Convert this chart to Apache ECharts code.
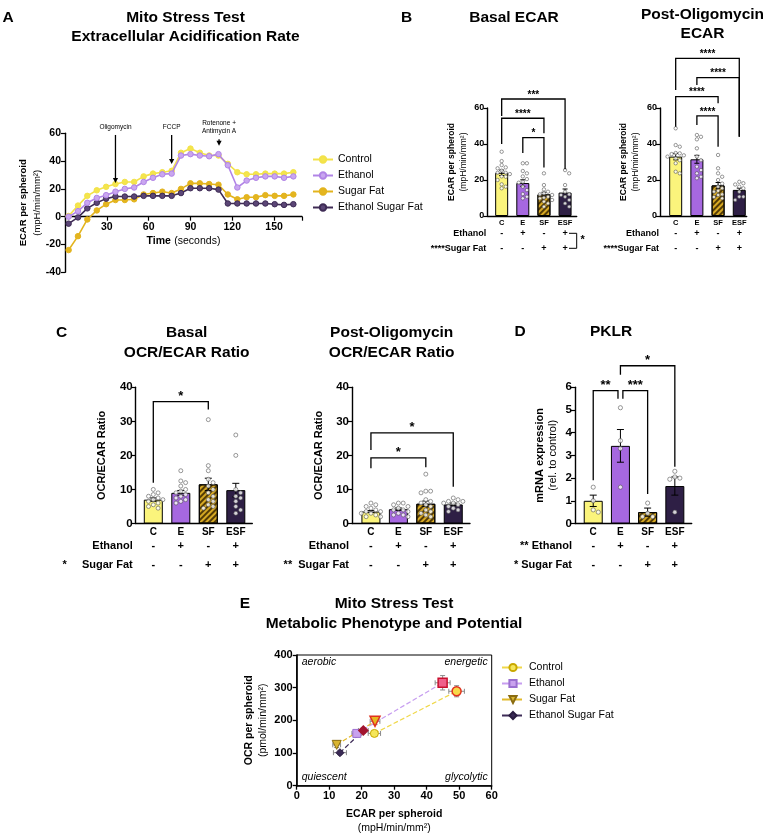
<!DOCTYPE html>
<html>
<head>
<meta charset="utf-8">
<script src="https://cdn.jsdelivr.net/npm/echarts@6/dist/echarts.min.js"></script>
<style>
  html, body { margin: 0; padding: 0; background: #fff; }
  #chart { width: 767px; height: 836px; }
</style>
</head>
<body>
<div id="chart"></div>
<script>
// ---------- data ----------
// Panel A: ECAR time course
const timeSec = [2.6, 9.3, 16.0, 22.8, 29.5, 36.2, 42.9, 49.6, 56.4, 63.1, 69.8, 76.5, 83.2, 90.0, 96.7, 103.4, 110.1, 116.8, 123.6, 130.3, 137.0, 143.7, 150.4, 157.1, 163.8];
const ecarControl = [0.5, 8, 15, 19, 21.5, 23.5, 25, 25, 29, 31, 32, 33, 46, 49, 46, 44, 44, 38, 32, 30.5, 30.5, 31, 31, 31, 32];
const ecarEthanol = [0, 4, 10, 13.5, 15.5, 18, 20, 21, 25, 28, 30.5, 31, 44, 45, 44, 43.5, 45, 37, 21, 26, 28, 29, 29, 28, 29];
const ecarSugarFat = [-24, -14, -2, 4.5, 9, 12, 12, 12.5, 16, 17, 18, 17, 20, 24, 24, 23.5, 23, 16, 12.5, 14, 14, 15.5, 15, 15, 16];
const ecarEthSugarFat = [-5, -0.5, 6, 10, 13, 14.5, 14.5, 14.5, 15, 15, 15, 15, 17, 20.5, 20.5, 20.5, 19.5, 9.5, 9.5, 9.5, 9.5, 9.5, 9, 8.5, 9];
const lineGroups = ['Control', 'Ethanol', 'Sugar Fat', 'Ethanol Sugar Fat'];
const injectTime = [36.2, 76.5, 110.5];
const injectName = ['Oligomycin', 'FCCP', 'Rotenone +\nAntimycin A'];
const injectTop = [58.8, 58.8, 55.7];
const injectTip = [24.2, 37.9, 51];

// bar panels: shared categories and treatment rows
const groups = ['C', 'E', 'SF', 'ESF'];
const ethanolRow = ['-', '+', '-', '+'];
const sugarFatRow = ['-', '-', '+', '+'];

// Panel B: basal ECAR
const basalEcarMean = [24, 18.3, 12, 13];
const basalEcarSem = [1.5, 1.8, 1.2, 2.0];
const basalEcarDots = [
  [35.7, 30.5, 28.3, 27, 26.5, 25.2, 24, 24, 23.3, 22, 21.8, 20, 17.6, 16.3, 15.4],
  [29.3, 29.3, 25, 23.7, 22, 20.5, 19, 18.5, 16.3, 14.4, 12.2, 10.7, 9.8],
  [23.7, 17.2, 14.8, 13.5, 12.6, 12, 11.7, 10.7, 10.2, 9.8, 8.9, 8, 7, 5.2],
  [25.5, 23.7, 17.2, 13.5, 12, 11.7, 10.7, 8.9, 7, 5.2]
];
// [from, to, top, left end, right end, label]
const basalEcarSig = [[0, 3, 65, 55.5, 26, '***'], [0, 2, 54.3, 40, 46, '****'], [1, 2, 43.5, 35, 27, '*']];

// Panel B: post-oligomycin ECAR
const postEcarMean = [33, 31.5, 17, 14.5];
const postEcarSem = [1.8, 2.2, 1.6, 1.0];
const postEcarDots = [
  [48.7, 39.4, 38.5, 35, 34.8, 34.4, 33.7, 33, 32, 31, 29.3, 24.6, 23.7],
  [45, 44, 42.6, 37.6, 33, 31, 27.4, 25.5, 23.7, 21.8, 21],
  [33.9, 26.5, 23.7, 21.8, 20, 18, 16.3, 15.4, 14, 13.5, 12, 11.7, 10.5, 9.8],
  [19, 18.2, 17.5, 17.2, 16.3, 15.4, 13.5, 10.7, 10.7, 8.9]
];
const postEcarSig = [[0, 3, 87.6, 70, 44, '****'], [1, 3, 76.9, 72.8, 44, '****'], [0, 2, 66.3, 49.6, 62.6, '****'], [1, 2, 55.6, 50.6, 38.5, '****']];

// Panel C: OCR/ECAR ratios
const basalRatioMean = [7, 9, 11.5, 9.8];
const basalRatioSem = [0.5, 0.7, 1.8, 2.0];
const basalRatioDots = [
  [10, 9, 8.5, 8, 7.5, 7, 7, 6.5, 6, 5.5, 5, 4.5],
  [15.5, 12.5, 12, 11, 10, 9.5, 9, 8.5, 8, 7.5, 7, 6.5, 6],
  [30.5, 17, 15.5, 13, 12, 11, 10, 9, 8, 7, 6.5, 5.5, 5, 4.5],
  [26, 20, 10, 9, 8, 7.5, 6.5, 5, 4, 3]
];
const basalRatioSig = [[0, 2, 35.8, 12, 33.5, '*']];

const postRatioMean = [3.5, 4.2, 5.8, 5.6];
const postRatioSem = [0.3, 0.35, 0.8, 0.4];
const postRatioDots = [
  [6, 5.5, 5, 4.5, 4, 3.5, 3.5, 3, 3, 2.5, 2, 2],
  [6, 6, 5.5, 5, 4.5, 4, 4, 3.5, 3, 2.5, 2.5, 2],
  [14.5, 9.5, 9.5, 9, 7, 6.5, 6, 5.5, 5, 4, 3.5, 3, 2.5, 2],
  [7.5, 7, 6.5, 6.5, 6, 6, 5.5, 5, 4.5, 4, 3.5]
];
const postRatioSig = [[0, 3, 26.6, 21.6, 10.8, '*'], [0, 2, 19.3, 16.2, 16.5, '*']];

// Panel D: PKLR
const pklrMean = [1.0, 3.42, 0.5, 1.65];
const pklrSem = [0.25, 0.72, 0.18, 0.4];
const pklrDots = [[1.6, 1.0, 0.6, 0.5], [5.1, 3.65, 3.3, 1.6], [0.9, 0.45, 0.3, 0.3], [2.3, 2.05, 2.0, 1.95, 0.5]];
const pklrSig = [[0, 0.91, 5.85, 1.9, 5.5, '**'], [1.09, 2, 5.85, 5.5, 1.3, '***'], [1, 3, 6.95, 6.55, 2.5, '*']];

// Panel E: metabolic phenotype
const phenoGroups = ['Control', 'Ethanol', 'Sugar Fat', 'Ethanol Sugar Fat'];
const ecarBasal = [23.9, 18.5, 12.3, 13.3];
const ocrBasal = [160, 160, 125, 101];
const ecarStressed = [49.2, 44.9, 24.1, 20.5];
const ocrStressed = [289, 315, 197, 169];
const ecarBasalSem = [1.9, 1.5, 1.2, 2.0];
const ocrBasalSem = [9, 8, 8, 6];
const ecarStressedSem = [2.4, 2.3, 1.5, 1.5];
const ocrStressedSem = [17, 22, 10, 8];

// ---------- styles ----------
const FONT = '"Liberation Sans", Arial, Helvetica, sans-serif';
const BLACK = '#000';
const lineColors = ['#f3e24a', '#b184e6', '#e3b41e', '#3e2b55'];
const markerFill = ['#f4e54c', '#c9a6f0', '#e4b51f', '#5b4676'];
const barFill = ['#fbf47c', '#a668e0', '#d6a823', '#2e1f45'];
const hatch = { symbol: 'rect', symbolSize: 1, color: 'rgba(60,40,0,0.85)', dashArrayX: [1, 0], dashArrayY: [1.4, 1.8], rotation: -Math.PI / 4 };

const chart = echarts.init(document.getElementById('chart'), null, { renderer: 'canvas' });
const option = { animation: false, backgroundColor: '#fff', grid: [], xAxis: [], yAxis: [], series: [], legend: [], graphic: [] };

function txt(x, y, text, size, weight, align) {
  return {
    type: 'text', x, y, silent: true,
    style: { text, font: `${weight || 'bold'} ${size}px ${FONT}`, fill: BLACK,
      align: align || 'center', verticalAlign: 'middle', textAlign: align || 'center', textVerticalAlign: 'middle' }
  };
}

// Prism-like dot spread so dots of diameter d (px) do not overlap much
function swarm(vals, pxX, pxY, d) {
  const placed = [];
  return vals.map(v => {
    const py = v * pxY;
    for (let k = 0; k < 30; k++) {
      const slot = k === 0 ? 0 : (k % 2 ? (k + 1) / 2 : -k / 2);
      const px = slot * d;
      if (placed.every(p => Math.hypot(p[0] - px, p[1] - py) >= d * 0.95)) {
        placed.push([px, py]);
        return px / pxX;
      }
    }
    return 0;
  });
}

function errorBars(xi, yi, means, sems, cap) {
  return {
    type: 'custom', xAxisIndex: xi, yAxisIndex: yi, z: 4, clip: false, silent: true,
    data: means.map((m, i) => [i, m, sems[i]]),
    renderItem(params, api) {
      const x = api.value(0), m = api.value(1), e = api.value(2);
      const hi = api.coord([x, m + e]), lo = api.coord([x, m - e]);
      const style = { stroke: BLACK, lineWidth: 1 };
      return { type: 'group', children: [
        { type: 'line', shape: { x1: hi[0], y1: hi[1], x2: lo[0], y2: lo[1] }, style },
        { type: 'line', shape: { x1: hi[0] - cap, y1: hi[1], x2: hi[0] + cap, y2: hi[1] }, style },
        { type: 'line', shape: { x1: lo[0] - cap, y1: lo[1], x2: lo[0] + cap, y2: lo[1] }, style }
      ] };
    }
  };
}

function brackets(xi, yi, sig, starSize) {
  return {
    type: 'custom', xAxisIndex: xi, yAxisIndex: yi, z: 6, clip: false, silent: true,
    data: sig.map(s => s.slice(0, 5)),
    renderItem(params, api) {
      const x1 = api.value(0), x2 = api.value(1), top = api.value(2);
      const p1 = api.coord([x1, api.value(3)]), p2 = api.coord([x1, top]);
      const p3 = api.coord([x2, top]), p4 = api.coord([x2, api.value(4)]);
      return { type: 'group', children: [
        { type: 'polyline', shape: { points: [p1, p2, p3, p4] }, style: { stroke: BLACK, lineWidth: 1.3, fill: null } },
        { type: 'text', x: (p2[0] + p3[0]) / 2, y: p2[1] + 1,
          style: { text: sig[params.dataIndex][5], font: `bold ${starSize}px ${FONT}`, fill: BLACK,
            align: 'center', verticalAlign: 'bottom', textAlign: 'center', textVerticalAlign: 'bottom' } }
      ] };
    }
  };
}

function barPanel(c) {
  const gi = option.grid.length;
  option.grid.push({ left: c.left, top: c.top, width: c.width, height: c.height });
  const xi = option.xAxis.length;
  const yi = option.yAxis.length;
  const base = { type: 'value', gridIndex: gi, min: c.xMin, max: c.xMax, splitLine: { show: false }, position: 'bottom' };
  const ticks = { customValues: [0, 1, 2, 3] };
  option.xAxis.push({ ...base,
    axisLine: { onZero: false, lineStyle: { color: BLACK, width: 1.4 } }, axisTick: { show: false },
    axisLabel: { ...ticks, formatter: v => groups[Math.round(v)], fontSize: c.catFont, fontWeight: 'bold', color: BLACK, margin: c.catMargin, fontFamily: FONT } });
  [[ethanolRow, c.row1, c.ethName], [sugarFatRow, c.row2, c.sfName]].forEach(([row, off, nm]) => {
    option.xAxis.push({ ...base, offset: off,
      axisLine: { show: false, onZero: false }, axisTick: { show: false },
      axisLabel: { ...ticks, formatter: v => row[Math.round(v)], fontSize: c.rowFont, fontWeight: 'bold', color: BLACK, margin: 0, verticalAlign: 'middle', fontFamily: FONT },
      name: nm, nameLocation: 'start', nameGap: c.rowNameGap,
      nameTextStyle: { fontSize: c.rowFont, fontWeight: 'bold', color: BLACK, verticalAlign: 'middle', fontFamily: FONT } });
  });
  const nameRich = {
    b: { fontWeight: 'bold', fontSize: c.nameFont, lineHeight: c.nameLH, fontFamily: FONT, color: BLACK },
    n: { fontSize: c.nameFont, lineHeight: c.nameLH, fontFamily: FONT, color: BLACK }
  };
  option.yAxis.push({ type: 'value', gridIndex: gi, min: 0, max: c.yMax, interval: c.yInt,
    splitLine: { show: false },
    axisLine: { show: true, onZero: false, lineStyle: { color: BLACK, width: 1.4 } },
    axisTick: { show: true, length: 4, lineStyle: { color: BLACK, width: 1.2 } },
    axisLabel: { fontSize: c.tickFont, fontWeight: 'bold', color: BLACK, margin: 3, fontFamily: FONT },
    name: c.yName.length > 1 ? `{b|${c.yName[0]}}\n{n|${c.yName[1]}}` : `{b|${c.yName[0]}}`,
    nameLocation: 'middle', nameRotate: 90, nameGap: c.nameGap, nameTextStyle: { rich: nameRich } });

  option.series.push({
    type: 'bar', xAxisIndex: xi, yAxisIndex: yi, barWidth: c.barWidth, z: 2, silent: true,
    data: c.means.map((m, i) => ({ value: [i, m],
      itemStyle: { color: barFill[i], borderColor: BLACK, borderWidth: 1, decal: i === 2 ? hatch : null } }))
  });
  option.series.push(errorBars(xi, yi, c.means, c.sems, c.cap));
  const pxX = c.width / (c.xMax - c.xMin), pxY = c.height / c.yMax;
  const pts = [];
  c.dots.forEach((vals, i) => {
    const offs = swarm(vals, pxX, pxY, c.dotSize * 1.2);
    vals.forEach((v, j) => pts.push([i + offs[j], v]));
  });
  option.series.push({
    type: 'scatter', xAxisIndex: xi, yAxisIndex: yi, z: 5, silent: true, symbol: 'circle', symbolSize: c.dotSize,
    itemStyle: { color: '#fff', borderColor: '#4a4a4a', borderWidth: 0.7 }, data: pts
  });
  option.series.push(brackets(xi, yi, c.sig, c.starSize));
}

// ---------- Panel A ----------
(function () {
  const gi = option.grid.length;
  const g = { left: 65, top: 133.3, width: 237, height: 139 };
  option.grid.push(g);
  const xi = option.xAxis.length, yi = option.yAxis.length;
  // axis line and ticks sit on y = 0
  option.xAxis.push({ type: 'value', gridIndex: gi, min: 0, max: 170, interval: 30,
    splitLine: { show: false },
    axisLine: { onZero: true, lineStyle: { color: BLACK, width: 1.4 } },
    axisTick: { length: 4, lineStyle: { color: BLACK, width: 1.2 } },
    axisLabel: { show: false } });
  // labels and title placed right under the zero line
  option.xAxis.push({ type: 'value', gridIndex: gi, min: 0, max: 170, interval: 30, position: 'bottom',
    offset: -g.height * 40 / 100,
    splitLine: { show: false }, axisLine: { show: false, onZero: false }, axisTick: { show: false },
    axisLabel: { formatter: v => (v === 0 ? '' : v), showMaxLabel: false, fontSize: 10.5, fontWeight: 'bold', color: BLACK, margin: 5, fontFamily: FONT },
    name: '{b|Time} {n|(seconds)}', nameLocation: 'middle', nameGap: 18,
    nameTextStyle: { rich: { b: { fontWeight: 'bold', fontSize: 10.5, fontFamily: FONT, color: BLACK }, n: { fontSize: 10.5, fontFamily: FONT, color: BLACK } } } });
  option.yAxis.push({ type: 'value', gridIndex: gi, min: -40, max: 60, interval: 20,
    splitLine: { show: false },
    axisLine: { lineStyle: { color: BLACK, width: 1.4 } },
    axisTick: { length: 4, lineStyle: { color: BLACK, width: 1.2 } },
    axisLabel: { fontSize: 10.5, fontWeight: 'bold', color: BLACK, margin: 4, fontFamily: FONT },
    name: '{b|ECAR per spheroid}\n{n|(mpH/min/mm²)}', nameLocation: 'middle', nameRotate: 90, nameGap: 21,
    nameTextStyle: { rich: { b: { fontWeight: 'bold', fontSize: 9.5, lineHeight: 14, fontFamily: FONT, color: BLACK }, n: { fontSize: 9.5, lineHeight: 14, fontFamily: FONT, color: BLACK } } } });
  [ecarControl, ecarEthanol, ecarSugarFat, ecarEthSugarFat].forEach((vals, k) => {
    option.series.push({ type: 'line', name: lineGroups[k], xAxisIndex: xi, yAxisIndex: yi, z: 3 + (k === 1 ? 1 : 0),
      symbol: 'circle', symbolSize: 5.5,
      lineStyle: { color: lineColors[k], width: 1.6 },
      itemStyle: { color: markerFill[k], borderColor: lineColors[k], borderWidth: 1 },
      data: timeSec.map((t, i) => [t, vals[i]]) });
  });
  option.series.push({ type: 'custom', xAxisIndex: xi, yAxisIndex: yi, z: 8, clip: false, silent: true,
    data: injectTime.map((t, i) => [t, injectTop[i], injectTip[i]]),
    renderItem(params, api) {
      const top = api.coord([api.value(0), api.value(1)]);
      const tip = api.coord([api.value(0), api.value(2)]);
      return { type: 'group', children: [
        { type: 'line', shape: { x1: top[0], y1: top[1], x2: tip[0], y2: tip[1] - 4 }, style: { stroke: BLACK, lineWidth: 1.3 } },
        { type: 'polygon', shape: { points: [[tip[0] - 2.6, tip[1] - 5], [tip[0] + 2.6, tip[1] - 5], [tip[0], tip[1]]] }, style: { fill: BLACK } },
        { type: 'text', x: top[0], y: top[1] - 4,
          style: { text: injectName[params.dataIndex], font: `6.5px ${FONT}`, lineHeight: 8.3, fill: BLACK,
            align: 'center', verticalAlign: 'bottom', textAlign: 'center', textVerticalAlign: 'bottom' } }
      ] };
    } });
  option.legend.push({ orient: 'vertical', left: 307, top: 149, itemWidth: 20, itemHeight: 8, itemGap: 5,
    data: lineGroups, selectedMode: false,
    textStyle: { fontSize: 10.5, color: BLACK, fontFamily: FONT } });
})();

// ---------- Panels B, C, D ----------
const smallB = { height: 108, top: 108, yMax: 60, yInt: 20, catFont: 7.5, catMargin: 3, rowFont: 9, row1: 17.3, row2: 32.3,
  tickFont: 9, nameFont: 8.5, nameLH: 11.6, barWidth: 13, cap: 2.5, dotSize: 3.4, starSize: 10, ethName: 'Ethanol', sfName: '****Sugar Fat' };
barPanel({ ...smallB, left: 487.3, width: 89.4, xMin: -0.68, xMax: 3.55, rowNameGap: 1,
  yName: ['ECAR per spheroid', '(mpH/min/mm²)'], nameGap: 18,
  means: basalEcarMean, sems: basalEcarSem, dots: basalEcarDots, sig: basalEcarSig });
barPanel({ ...smallB, left: 660, width: 86.7, xMin: -0.74, xMax: 3.35, rowNameGap: 1,
  yName: ['ECAR per spheroid', '(mpH/min/mm²)'], nameGap: 18.5,
  means: postEcarMean, sems: postEcarSem, dots: postEcarDots, sig: postEcarSig });

const largeC = { top: 387.3, height: 136.2, catFont: 10, catMargin: 3.5, rowFont: 11, row1: 22.2, row2: 41.5,
  tickFont: 11.5, nameFont: 11, nameLH: 13.5, barWidth: 19, cap: 3.5, dotSize: 4, starSize: 13, rowNameGap: 3 };
barPanel({ ...largeC, left: 135.7, width: 116.6, xMin: -0.64, xMax: 3.6, yMax: 40, yInt: 10,
  ethName: 'Ethanol', sfName: '*     Sugar Fat', yName: ['OCR/ECAR Ratio'], nameGap: 27,
  means: basalRatioMean, sems: basalRatioSem, dots: basalRatioDots, sig: basalRatioSig });
barPanel({ ...largeC, left: 352, width: 118, xMin: -0.69, xMax: 3.61, yMax: 40, yInt: 10,
  ethName: 'Ethanol', sfName: '**  Sugar Fat', yName: ['OCR/ECAR Ratio'], nameGap: 26,
  means: postRatioMean, sems: postRatioSem, dots: postRatioDots, sig: postRatioSig });
barPanel({ ...largeC, left: 575, width: 116.7, xMin: -0.67, xMax: 3.62, yMax: 6, yInt: 1, dotSize: 4.2,
  ethName: '** Ethanol', sfName: '* Sugar Fat', yName: ['mRNA expression', '(rel. to control)'], nameGap: 15,
  means: pklrMean, sems: pklrSem, dots: pklrDots, sig: pklrSig });

// ---------- Panel E ----------
(function () {
  const gi = option.grid.length;
  const g = { left: 296.7, top: 655, width: 195, height: 130.7 };
  option.grid.push({ ...g, show: true, borderColor: BLACK, borderWidth: 1, backgroundColor: 'transparent' });
  const xi = option.xAxis.length, yi = option.yAxis.length;
  const axisCommon = { gridIndex: gi, type: 'value', splitLine: { show: false },
    axisLine: { onZero: false, lineStyle: { color: BLACK, width: 1.6 } },
    axisTick: { length: 4, lineStyle: { color: BLACK, width: 1.3 } } };
  const rich = (lh) => ({ b: { fontWeight: 'bold', fontSize: 10.5, lineHeight: lh, fontFamily: FONT, color: BLACK }, n: { fontSize: 10.5, lineHeight: lh, fontFamily: FONT, color: BLACK } });
  option.xAxis.push({ ...axisCommon, min: 0, max: 60, interval: 10,
    axisLabel: { fontSize: 11, fontWeight: 'bold', color: BLACK, margin: 5, fontFamily: FONT },
    name: '{b|ECAR per spheroid}\n{n|(mpH/min/mm²)}', nameLocation: 'middle', nameGap: 21, nameTextStyle: { rich: rich(14.3) } });
  option.yAxis.push({ ...axisCommon, min: 0, max: 400, interval: 100,
    axisLabel: { fontSize: 11, fontWeight: 'bold', color: BLACK, margin: 4, fontFamily: FONT },
    name: '{b|OCR per spheroid}\n{n|(pmol/min/mm²)}', nameLocation: 'middle', nameRotate: 90, nameGap: 27, nameTextStyle: { rich: rich(13.4) } });

  const symbols = ['circle', 'rect', 'triangle', 'diamond'];
  const basalFill = ['#f5e65a', '#c9a2ee', '#d9b532', '#3a2a55'];
  const basalBorder = ['#c9a800', '#9b6fd0', '#8a6c10', '#2a1c40'];
  const stressFill = ['#f7d94a', '#ef5f8a', '#e5b820', '#a2142f'];
  const stressBorder = ['#e0301e', '#c8102e', '#e0301e', '#a2142f'];
  const phenoLine = ['#f0d84a', '#c79ef0', '#e2b92a', '#3e2c58'];
  phenoGroups.forEach((nm, i) => {
    option.series.push({ type: 'line', name: 'E:' + nm, xAxisIndex: xi, yAxisIndex: yi, z: 6,
      symbol: symbols[i], symbolSize: i === 2 ? 9 : 8, symbolRotate: i === 2 ? 180 : 0,
      lineStyle: { type: 'dashed', width: 1.2, color: phenoLine[i] },
      itemStyle: { color: basalFill[i], borderColor: basalBorder[i], borderWidth: 1 },
      data: [
        { value: [ecarBasal[i], ocrBasal[i]] },
        { value: [ecarStressed[i], ocrStressed[i]], symbolSize: i === 2 ? 10 : 9,
          itemStyle: { color: stressFill[i], borderColor: stressBorder[i], borderWidth: 1.5 } }
      ] });
  });
  const errRows = [];
  phenoGroups.forEach((nm, i) => {
    errRows.push([ecarBasal[i], ocrBasal[i], ecarBasalSem[i], ocrBasalSem[i]]);
    errRows.push([ecarStressed[i], ocrStressed[i], ecarStressedSem[i], ocrStressedSem[i]]);
  });
  option.series.push({ type: 'custom', xAxisIndex: xi, yAxisIndex: yi, z: 5, silent: true, data: errRows,
    renderItem(params, api) {
      const x = api.value(0), y = api.value(1), ex = api.value(2), ey = api.value(3);
      const l = api.coord([x - ex, y]), r = api.coord([x + ex, y]);
      const t = api.coord([x, y + ey]), b = api.coord([x, y - ey]);
      const s = { stroke: '#8a8a8a', lineWidth: 1 }, c = 2.5;
      return { type: 'group', children: [
        { type: 'line', shape: { x1: l[0], y1: l[1], x2: r[0], y2: r[1] }, style: s },
        { type: 'line', shape: { x1: l[0], y1: l[1] - c, x2: l[0], y2: l[1] + c }, style: s },
        { type: 'line', shape: { x1: r[0], y1: r[1] - c, x2: r[0], y2: r[1] + c }, style: s },
        { type: 'line', shape: { x1: t[0], y1: t[1], x2: b[0], y2: b[1] }, style: s },
        { type: 'line', shape: { x1: t[0] - c, y1: t[1], x2: t[0] + c, y2: t[1] }, style: s },
        { type: 'line', shape: { x1: b[0] - c, y1: b[1], x2: b[0] + c, y2: b[1] }, style: s }
      ] };
    } });
  option.legend.push({ orient: 'vertical', left: 496, top: 657, itemWidth: 22, itemHeight: 9, itemGap: 5,
    data: phenoGroups.map(n => 'E:' + n), selectedMode: false, formatter: n => n.slice(2),
    textStyle: { fontSize: 10.5, color: BLACK, fontFamily: FONT } });
  const it = 'italic';
  option.graphic.push(
    txt(g.left + 5, g.top + 7, 'aerobic', 10.5, it, 'left'),
    txt(g.left + g.width - 4, g.top + 7, 'energetic', 10.5, it, 'right'),
    txt(g.left + 5, g.top + g.height - 9, 'quiescent', 10.5, it, 'left'),
    txt(g.left + g.width - 4, g.top + g.height - 9, 'glycolytic', 10.5, it, 'right'));
})();

// ---------- titles, panel letters, annotations ----------
option.graphic.push(
  txt(8, 17.3, 'A', 15.5), txt(406.7, 17.3, 'B', 15.5), txt(61.7, 333, 'C', 15.5), txt(520, 331.7, 'D', 15.5), txt(245, 604, 'E', 15.5),
  txt(185.5, 17.3, 'Mito Stress Test', 15.5), txt(185.5, 36.7, 'Extracellular Acidification Rate', 15.5),
  txt(514, 17.3, 'Basal ECAR', 15.5),
  txt(702.5, 15, 'Post-Oligomycin', 15.5), txt(702.5, 34, 'ECAR', 15.5),
  txt(186.7, 332.3, 'Basal', 15.5), txt(186.7, 352.3, 'OCR/ECAR Ratio', 15.5),
  txt(391.7, 332.3, 'Post-Oligomycin', 15.5), txt(391.7, 352.3, 'OCR/ECAR Ratio', 15.5),
  txt(611, 331.7, 'PKLR', 15.5),
  txt(394, 604, 'Mito Stress Test', 15.5), txt(394, 623.3, 'Metabolic Phenotype and Potential', 15.5)
);
// interaction bracket next to the basal ECAR treatment rows
(function () {
  const right = 487.3 + 89.4, r1 = 108 + 108 + 17.3, r2 = 108 + 108 + 32.3;
  option.graphic.push({ type: 'polyline', silent: true,
    shape: { points: [[569, r1], [right, r1], [right, r2], [569, r2]] }, style: { stroke: BLACK, lineWidth: 1, fill: null } });
  option.graphic.push(txt(right + 6, (r1 + r2) / 2 - 1, '*', 11, 'bold', 'center'));
})();

chart.setOption(option);
</script>
</body>
</html>
